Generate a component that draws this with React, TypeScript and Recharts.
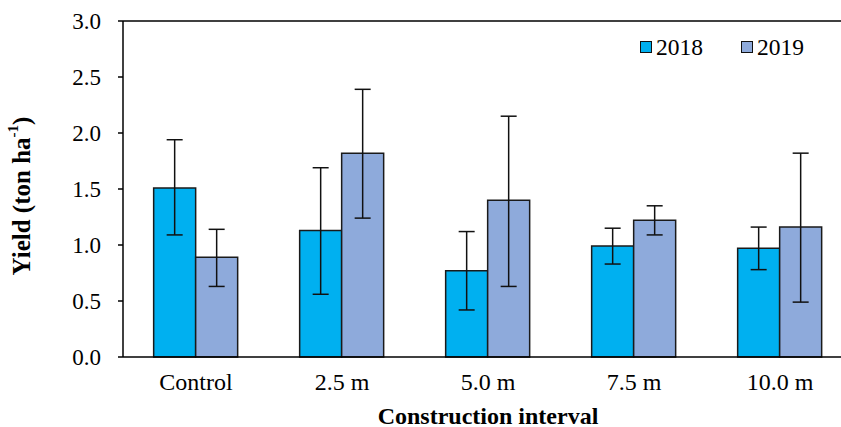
import { Bar, BarChart, ErrorBar, ReferenceLine, XAxis, YAxis } from "recharts";

const categories = ["Control", "2.5 m", "5.0 m", "7.5 m", "10.0 m"];
const yield2018 = [1.51, 1.13, 0.77, 0.99, 0.97];
const upper2018 = [1.94, 1.69, 1.12, 1.15, 1.16];
const lower2018 = [1.09, 0.56, 0.42, 0.83, 0.78];
const yield2019 = [0.89, 1.82, 1.4, 1.22, 1.16];
const upper2019 = [1.14, 2.39, 2.15, 1.35, 1.82];
const lower2019 = [0.63, 1.24, 0.63, 1.09, 0.49];
const yTicks = [0, 0.5, 1, 1.5, 2, 2.5, 3];

const COLOR_2018 = "#00b0f0";
const COLOR_2019 = "#8eaadb";
const FONT = "'Liberation Serif', 'Times New Roman', serif";

const data = categories.map((name, i) => ({
  name,
  y2018: yield2018[i],
  y2019: yield2019[i],
  e2018: [yield2018[i] - lower2018[i], upper2018[i] - yield2018[i]],
  e2019: [yield2019[i] - lower2019[i], upper2019[i] - yield2019[i]],
}));

const SERIES = [
  { key: "2018", color: COLOR_2018 },
  { key: "2019", color: COLOR_2019 },
];

function LegendBox() {
  return (
    <div
      style={{
        position: "absolute",
        left: 640,
        top: 34,
        display: "flex",
        fontFamily: FONT,
        fontSize: 23.5,
        color: "#000",
        lineHeight: "26px",
      }}
    >
      {SERIES.map((s, i) => (
        <div key={s.key} style={{ display: "flex", alignItems: "center", marginLeft: i ? 38 : 0 }}>
          <span
            style={{
              width: 10,
              height: 10,
              background: s.color,
              border: "1.5px solid #111",
              marginRight: 4,
              display: "inline-block",
            }}
          />
          <span>{s.key}</span>
        </div>
      ))}
    </div>
  );
}

function YLabel() {
  return (
    <text
      x={21}
      y={196}
      transform="rotate(-90 21 196)"
      textAnchor="middle"
      dominantBaseline="central"
      fontFamily={FONT}
      fontSize={25}
      fontWeight="bold"
      fill="#000"
    >
      Yield (ton ha
      <tspan fontSize={15} dy={-8}>
        -1
      </tspan>
      <tspan dy={8}>)</tspan>
    </text>
  );
}

export default function App() {
  return (
    <div style={{ position: "absolute", left: 0, top: 0, width: 841, height: 427, overflow: "hidden", background: "#fff" }}>
      <BarChart
        width={860}
        height={427}
        data={data}
        margin={{ top: 21, right: 7, bottom: 0, left: 0 }}
        barCategoryGap="21%"
        barGap={0}
      >
        <XAxis
          dataKey="name"
          height={70}
          axisLine={{ stroke: "#000", strokeWidth: 1.5 }}
          tickLine={false}
          tickSize={0}
          tickMargin={16}
          tick={{ fontFamily: FONT, fontSize: 24, fill: "#000" }}
          interval={0}
          label={{
            value: "Construction interval",
            position: "insideBottom",
            offset: 0,
            dy: -3,
            style: { fontFamily: FONT, fontSize: 24, fontWeight: "bold", fill: "#000" },
          }}
        />
        <YAxis
          width={123}
          domain={[0, 3]}
          ticks={yTicks}
          tickFormatter={(v: number) => v.toFixed(1)}
          axisLine={{ stroke: "#000", strokeWidth: 1.5 }}
          tickLine={{ stroke: "#000", strokeWidth: 1.5 }}
          tickSize={5}
          tickMargin={17}
          tick={{ fontFamily: FONT, fontSize: 23, fill: "#000" }}
          label={{ content: () => <YLabel /> }}
        />
        <ReferenceLine y={3} stroke="#000" strokeWidth={1.5} />
        <Bar dataKey="y2018" name="2018" fill={COLOR_2018} stroke="#1a1a1a" strokeWidth={1.5} isAnimationActive={false}>
          <ErrorBar dataKey="e2018" direction="y" width={8} stroke="#111" strokeWidth={1.5} />
        </Bar>
        <Bar dataKey="y2019" name="2019" fill={COLOR_2019} stroke="#1a1a1a" strokeWidth={1.5} isAnimationActive={false}>
          <ErrorBar dataKey="e2019" direction="y" width={8} stroke="#111" strokeWidth={1.5} />
        </Bar>
      </BarChart>
      <LegendBox />
    </div>
  );
}
